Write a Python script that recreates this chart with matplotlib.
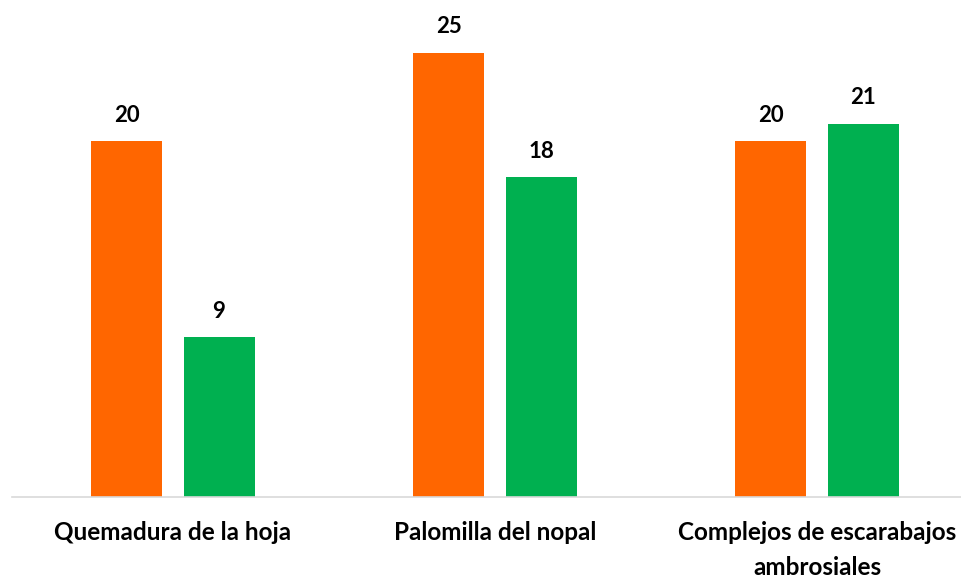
import numpy as np
import matplotlib.pyplot as plt

categories = ['Quemadura de la hoja', 'Palomilla del nopal', 'Complejos de escarabajos\nambrosiales']
serie_naranja = [20, 25, 20]
serie_verde = [9, 18, 21]

plt.rcParams['font.family'] = ['Lato', 'DejaVu Sans']

fig = plt.figure(figsize=(9.62, 5.81), dpi=100)
# axes run past the right edge, the chart is cut off there
ax = fig.add_axes([12 / 962, 1 - 497 / 581, 966 / 962, 480 / 581])

x = np.arange(len(categories))
w = 0.2205
off = 0.143
b1 = ax.bar(x - off, serie_naranja, w, color='#FF6600')
b2 = ax.bar(x + off, serie_verde, w, color='#00B050')

for bars, vals in ((b1, serie_naranja), (b2, serie_verde)):
    for rect, v in zip(bars, vals):
        ax.annotate(str(v), (rect.get_x() + rect.get_width() / 2, v),
                    xytext=(0, 11), textcoords='offset points',
                    ha='center', va='bottom', fontsize=16, fontweight='bold', color='black')

ax.set_xlim(-0.5, 2.5)
ax.set_ylim(0, 27)
ax.set_yticks([])
ax.set_xticks(x)
ax.set_xticklabels(categories, fontsize=17.5, fontweight='bold', linespacing=1.65)
ax.tick_params(axis='x', length=0, pad=17)
for s in ['top', 'right', 'left']:
    ax.spines[s].set_visible(False)
ax.spines['bottom'].set_color('#D9D9D9')
ax.spines['bottom'].set_linewidth(1.2)

fig.savefig('out.png', dpi=100)
